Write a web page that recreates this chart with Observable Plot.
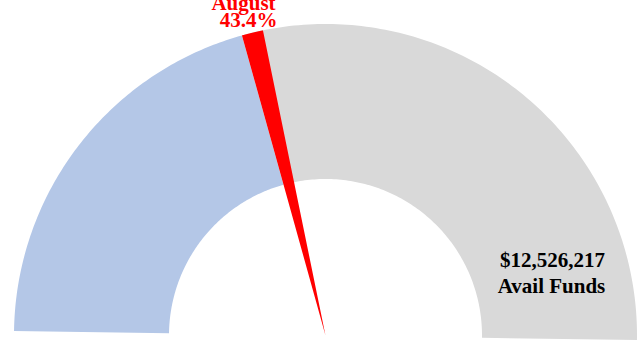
<!DOCTYPE html>
<html>
<head>
<meta charset="utf-8">
<script src="https://cdn.jsdelivr.net/npm/d3@7"></script>
<script src="https://cdn.jsdelivr.net/npm/@observablehq/plot@0.6"></script>
<style>
  html, body { margin: 0; padding: 0; background: #ffffff; }
  #chart svg { display: block; }
</style>
</head>
<body>
<div id="chart"></div>
<script>
// ---- data (percent of the half-gauge) ----
const segments = ["Used", "Needle", "Avail Funds"];
const segmentValues = [40.9, 2.2, 56.9];
const segmentColors = ["#B4C7E7", "#FF0000", "#D9D9D9"];
const monthLabel = "August";
const percentLabel = "43.4%";
const availAmount = "$12,526,217";
const availLabel = "Avail Funds";

// ---- layout ----
const W = 644, H = 343;
const cx = 325.5, cy = 335.5, R = 311.5, r = 156.5, tilt = 0.83;

function polar(rad, pct) {
  const phi = (tilt + pct / 100 * 180) * Math.PI / 180;
  return [cx - rad * Math.cos(phi), cy - rad * Math.sin(phi)];
}
function ring(name, a, b, inner) {
  const n = 120, pts = [];
  for (let i = 0; i <= n; i++) {
    const p = a + (b - a) * i / n;
    const [x1, y1] = polar(R, p);
    const [x2, y2] = polar(inner, p);
    pts.push({seg: name, x1, y1, x2, y2});
  }
  return pts;
}

let acc = 0;
const bounds = segmentValues.map(v => { const s = acc; acc += v; return [s, acc]; });
const usedArc = ring(segments[0], bounds[0][0], bounds[0][1], r);
const availArc = ring(segments[2], bounds[1][0], bounds[2][1], r);
const needleArc = ring(segments[1], bounds[1][0], bounds[1][1], 0);

const font = "Liberation Serif, Times New Roman, serif";
const chart = Plot.plot({
  width: W, height: H,
  margin: 0,
  x: {domain: [0, W], range: [0, W], axis: null},
  y: {domain: [0, H], range: [0, H], axis: null},
  marks: [
    Plot.area(usedArc, {x1: "x1", y1: "y1", x2: "x2", y2: "y2", fill: segmentColors[0], curve: "linear"}),
    Plot.area(availArc, {x1: "x1", y1: "y1", x2: "x2", y2: "y2", fill: segmentColors[2], curve: "linear"}),
    Plot.area(needleArc, {x1: "x1", y1: "y1", x2: "x2", y2: "y2", fill: segmentColors[1], curve: "linear"}),
    Plot.text([monthLabel], {x: () => 243, y: () => 2.8, text: d => d, fill: "#FF0000", fontSize: 21, fontWeight: "bold", fontFamily: font}),
    Plot.text([percentLabel], {x: () => 248, y: () => 20, text: d => d, fill: "#FF0000", fontSize: 21, fontWeight: "bold", fontFamily: font}),
    Plot.text([availAmount], {x: () => 552, y: () => 260, text: d => d, fill: "#000000", fontSize: 21, fontWeight: "bold", fontFamily: font}),
    Plot.text([availLabel], {x: () => 551, y: () => 286, text: d => d, fill: "#000000", fontSize: 21, fontWeight: "bold", fontFamily: font})
  ]
});
document.getElementById("chart").appendChild(chart);
</script>
</body>
</html>
